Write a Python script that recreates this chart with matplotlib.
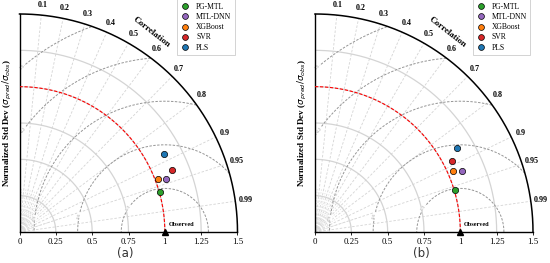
import numpy as np
import matplotlib
matplotlib.use("Agg")
import matplotlib.pyplot as plt
from matplotlib.lines import Line2D

# ---- data ----
models = ["PG-MTL", "MTL-DNN", "XGBoost", "SVR", "PLS"]
colors = ["#2ca02c", "#9467bd", "#ff7f0e", "#d62728", "#1f77b4"]
std_a = [1.007, 1.074, 1.020, 1.131, 1.126]
corr_a = [0.962, 0.940, 0.935, 0.927, 0.880]
std_b = [1.007, 1.096, 1.040, 1.061, 1.134]
corr_b = [0.957, 0.923, 0.915, 0.889, 0.861]
corr_ticks = [0.1, 0.2, 0.3, 0.4, 0.5, 0.6, 0.7, 0.8, 0.9, 0.95, 0.99]
std_ticks = [0, 0.25, 0.5, 0.75, 1, 1.25, 1.5]
std_tick_labels = ["0", "0.25", "0.5", "0.75", "1", "1.25", "1.5"]
rmsd_levels = [0.3, 0.6, 0.9, 1.2, 1.5]
rmsd_label_angles = [147, 169, 174, 144, 131]
panel_labels = ["(a)", "(b)"]

SERIF = ["Liberation Serif", "DejaVu Serif"]
RMAX = 1.5

fig = plt.figure(figsize=(5.5, 2.63), dpi=100)
W, H = 550, 263
axes_px = [(19, 14, 219, 218), (315, 14, 218, 218)]


def taylor(ax, stds, corrs, label):
    ax.set_xlim(0, RMAX)
    ax.set_ylim(0, RMAX)
    ax.set_aspect("equal")
    t = np.linspace(0, np.pi / 2, 300)
    # std arcs
    for s in [0.25, 0.5, 0.75, 1.0, 1.25]:
        ax.plot(s * np.cos(t), s * np.sin(t), color="#d4d4d4", lw=0.9, zorder=1)
    # red reference arc
    ax.plot(np.cos(t), np.sin(t), color="red", lw=0.8, ls=(0, (3, 1.5)), zorder=3)
    # outer arc
    ax.plot(RMAX * np.cos(t), RMAX * np.sin(t), color="black", lw=1.1, zorder=4, clip_on=False)
    # correlation lines
    for c in corr_ticks:
        a = np.arccos(c)
        ax.plot([0, RMAX * np.cos(a)], [0, RMAX * np.sin(a)], color="#d4d4d4",
                lw=0.6, ls=(0, (3, 2)), zorder=1)
        ax.text(1.57 * np.cos(a), 1.57 * np.sin(a), f"{c:g}", fontsize=5.8,
                fontweight="bold", family=SERIF, ha="center", va="center")
    # extra fine lines near origin
    for c in np.arange(0.05, 1.0, 0.1):
        a = np.arccos(c)
        ax.plot([0, 0.3 * np.cos(a)], [0, 0.3 * np.sin(a)], color="#dcdcdc",
                lw=0.5, ls=(0, (2, 2)), zorder=1)
    ax.text(1.645 * np.cos(np.radians(56.5)), 1.645 * np.sin(np.radians(56.5)), "Correlation",
            rotation=-38, fontsize=6.5, fontweight="bold", family=SERIF,
            ha="center", va="center")
    # RMSD contours
    tt = np.linspace(0, np.pi, 600)
    for r, ang in zip(rmsd_levels, rmsd_label_angles):
        x = 1 + r * np.cos(tt)
        y = r * np.sin(tt)
        m = (x >= 0) & (x ** 2 + y ** 2 <= RMAX ** 2)
        x = np.where(m, x, np.nan)
        y = np.where(m, y, np.nan)
        ax.plot(x, y, color="#959595", lw=0.7, ls=(0, (2.5, 1.5)), zorder=2)
        a = np.radians(ang)
        ax.text(1 + r * np.cos(a), r * np.sin(a), f"{r:g}", fontsize=3.5,
                color="#a0a0a0", family=SERIF, rotation=ang - 90,
                ha="center", va="center", zorder=2,
                bbox=dict(fc="white", ec="none", pad=0.1))
    # observed
    ax.plot([1], [0], marker="^", color="black", ms=4, clip_on=False, zorder=6)
    ax.text(1.115, 0.055, "Observed", fontsize=4.5, fontweight="bold",
            family=SERIF, ha="center", va="center")
    # points
    for s, c, col, name in zip(stds, corrs, colors, models):
        a = np.arccos(c)
        ax.plot(s * np.cos(a), s * np.sin(a), "o", color=col, mec="black",
                mew=0.5, ms=4.5, zorder=7, label=name)
    # axes styling
    for sp in ["top", "right"]:
        ax.spines[sp].set_visible(False)
    ax.spines["left"].set_linewidth(1.0)
    ax.spines["bottom"].set_linewidth(1.0)
    ax.set_xticks(std_ticks)
    ax.set_xticklabels(std_tick_labels, family=SERIF, fontsize=6.3)
    ax.set_yticks([])
    ax.tick_params(axis="x", length=2, width=0.6, pad=2)
    ax.set_ylabel(r"Normalized Std Dev ($\sigma_{pred}/\sigma_{obs}$)",
                  fontsize=6.5, fontweight="bold", family=SERIF, labelpad=4)
    handles = [Line2D([], [], marker="o", ls="none", color=col, mec="black",
                      mew=0.5, ms=4.2) for col in colors]
    leg = ax.legend(handles, models, loc="upper right", bbox_to_anchor=(0.995, 1.075),
                    prop={"family": SERIF, "size": 5.5}, fancybox=False,
                    edgecolor="#cccccc", framealpha=1, handletextpad=0.9,
                    borderpad=0.45, labelspacing=0.3, handlelength=1.1,
                    borderaxespad=0.2)
    leg.get_frame().set_linewidth(0.6)
    leg.set_zorder(10)


for (x0, y0, w, h), stds, corrs, lab in zip(axes_px, [std_a, std_b], [corr_a, corr_b], panel_labels):
    ax = fig.add_axes([x0 / W, 1 - (y0 + h) / H, w / W, h / H])
    taylor(ax, stds, corrs, lab)
    fig.text((x0 + w / 2 - 3) / W, 1 - 254 / H, lab, fontsize=8.5,
             family=["DejaVu Sans"], ha="center", va="center", color="#333333")

fig.savefig("out.png", dpi=100)
